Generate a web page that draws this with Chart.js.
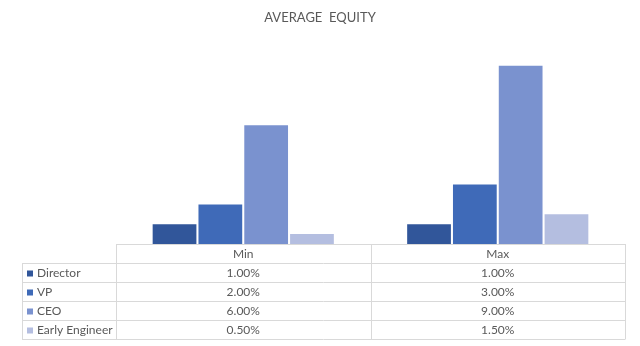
<!DOCTYPE html>
<html>
<head>
<meta charset="utf-8">
<script src="https://cdn.jsdelivr.net/npm/chart.js@4"></script>
<style>
  html, body { margin: 0; padding: 0; background: #fff; }
  #wrap { width: 640px; height: 346px; }
</style>
</head>
<body>
<div id="wrap"><canvas id="equityChart" width="640" height="346"></canvas></div>
<script>
// Data
const categories = ['Min', 'Max'];
const roles = ['Director', 'VP', 'CEO', 'Early Engineer'];
const director = [1.0, 1.0];
const vp = [2.0, 3.0];
const ceo = [6.0, 9.0];
const earlyEngineer = [0.5, 1.5];
const roleColors = ['#31569a', '#3f6ab8', '#7a92cf', '#b4bee0'];
const chartTitle = 'AVERAGE  EQUITY';

const seriesValues = [director, vp, ceo, earlyEngineer];

// Title centred on the whole canvas, like Excel
const titlePlugin = {
  id: 'centerTitle',
  afterDraw(chart) {
    const ctx = chart.ctx;
    ctx.save();
    ctx.font = '13px Lato, "Open Sans", sans-serif';
    ctx.fillStyle = '#595959';
    ctx.textAlign = 'center';
    ctx.textBaseline = 'middle';
    ctx.fillText(chartTitle, chart.width / 2, 18);
    ctx.restore();
  }
};

// Draws the Excel-style data table under the bars
const dataTablePlugin = {
  id: 'dataTable',
  afterDraw(chart) {
    const ctx = chart.ctx;
    const area = chart.chartArea;
    const xs = chart.scales.x;
    const rowH = 19;
    const labelLeft = 22;
    const top = area.bottom;
    const mid = (xs.getPixelForValue(0) + xs.getPixelForValue(1)) / 2;
    const colEdges = [area.left, mid, area.right];
    const nRows = roles.length;
    const bottom = top + rowH * (nRows + 1);

    ctx.save();
    ctx.strokeStyle = '#d9d9d9';
    ctx.lineWidth = 1;
    ctx.beginPath();
    // header top line
    ctx.moveTo(area.left, top + 0.5);
    ctx.lineTo(area.right, top + 0.5);
    // row lines
    for (let r = 1; r <= nRows + 1; r++) {
      const y = Math.round(top + r * rowH) + 0.5;
      ctx.moveTo(labelLeft, y);
      ctx.lineTo(area.right, y);
    }
    // vertical lines
    ctx.moveTo(labelLeft + 0.5, top + rowH);
    ctx.lineTo(labelLeft + 0.5, bottom + 0.5);
    colEdges.forEach(function(x) {
      ctx.moveTo(Math.round(x) + 0.5, top);
      ctx.lineTo(Math.round(x) + 0.5, bottom + 0.5);
    });
    ctx.stroke();

    ctx.font = '12px Lato, "Open Sans", sans-serif';
    ctx.fillStyle = '#595959';
    ctx.textBaseline = 'middle';
    ctx.textAlign = 'center';
    categories.forEach(function(c, i) {
      ctx.fillText(c, (colEdges[i] + colEdges[i + 1]) / 2, top + rowH / 2 + 1);
    });

    roles.forEach(function(role, r) {
      const y = top + rowH * (r + 1) + rowH / 2 + 1;
      ctx.fillStyle = roleColors[r];
      ctx.fillRect(labelLeft + 5, y - 3, 6, 6);
      ctx.fillStyle = '#595959';
      ctx.textAlign = 'left';
      ctx.fillText(role, labelLeft + 15, y);
      ctx.textAlign = 'center';
      seriesValues[r].forEach(function(v, i) {
        ctx.fillText(v.toFixed(2) + '%', (colEdges[i] + colEdges[i + 1]) / 2, y);
      });
    });
    ctx.restore();
  }
};

const ctx = document.getElementById('equityChart').getContext('2d');
new Chart(ctx, {
  type: 'bar',
  data: {
    labels: categories,
    datasets: roles.map(function(role, i) {
      return {
        label: role,
        data: seriesValues[i],
        backgroundColor: roleColors[i],
        borderWidth: 0,
        categoryPercentage: 0.72,
        barPercentage: 0.955
      };
    })
  },
  options: {
    responsive: false,
    animation: false,
    layout: {
      padding: { left: 116, right: 15, top: 46, bottom: 102 }
    },
    plugins: {
      title: { display: false },
      legend: { display: false },
      tooltip: { enabled: false }
    },
    scales: {
      x: { display: false },
      y: { display: false, min: 0, max: 10 }
    }
  },
  plugins: [titlePlugin, dataTablePlugin]
});
</script>
</body>
</html>
